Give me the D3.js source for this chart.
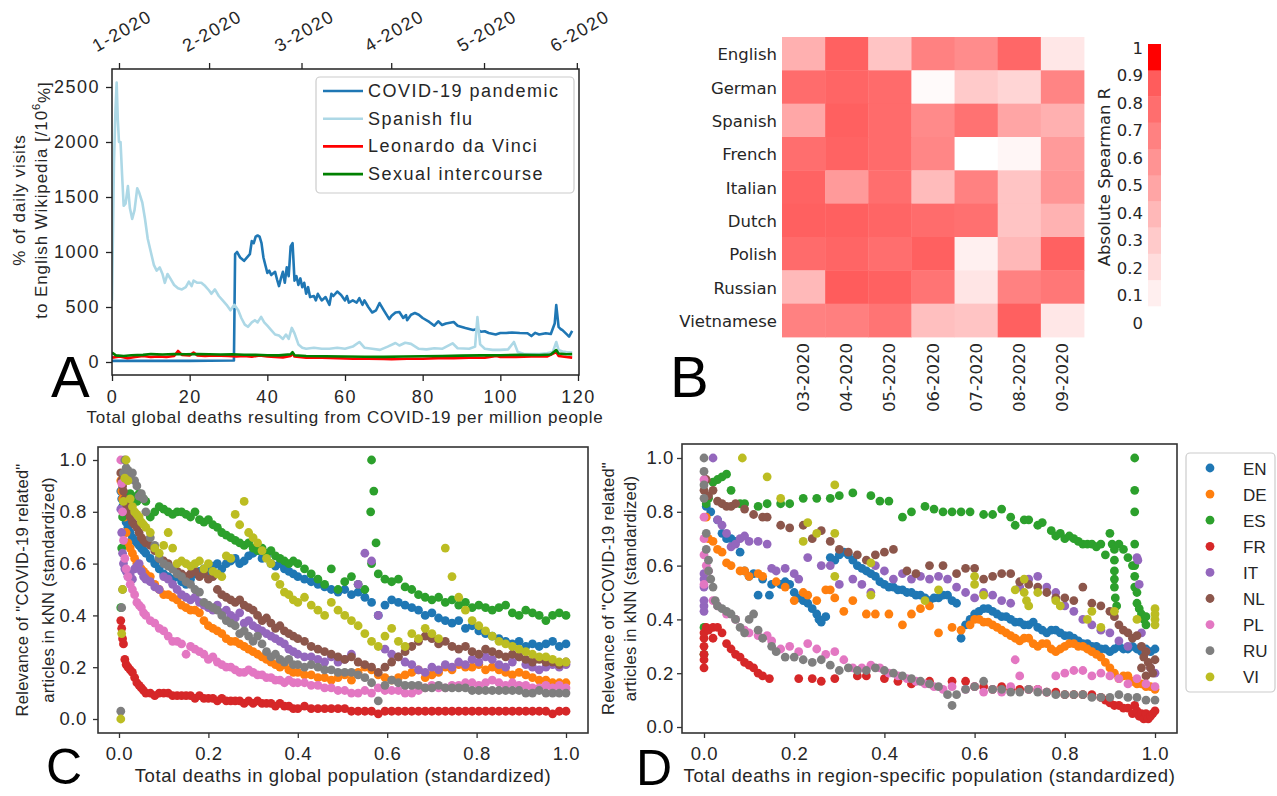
<!DOCTYPE html>
<html>
<head>
<meta charset="utf-8">
<script src="https://d3js.org/d3.v7.min.js"></script>
<style>
  body { margin: 0; background: #fff; }
  svg { display: block; }
</style>
</head>
<body>
<script>
// ---------- Panel A data: daily visits vs global deaths per million ----------
const legendA = ["COVID-19 pandemic", "Spanish flu", "Leonardo da Vinci", "Sexual intercourse"];
const colorsA = ["#1f77b4", "#add8e6", "#ff0000", "#008000"];
const ticksA = [0, 20, 40, 60, 80, 100, 120];
const yTicksA = [0, 500, 1000, 1500, 2000, 2500];
const monthLabelsA = ["1-2020", "2-2020", "3-2020", "4-2020", "5-2020", "6-2020"];
const monthPosA = [1.8, 25.0, 48.8, 71.9, 95.8, 119.7];

const covidVisits = [[0,10],[5,12],[10,10],[15,12],[20,10],[25,12],[31.4,14],[31.7,980],[32.2,1000],[33,950],[34,920],[35,960],[35.5,980],[36,1100],[36.5,1080],[37,1140],[37.5,1150],[38,1140],[38.5,1080],[39,950],[39.5,880],[40,810],[40.5,830],[41,790],[42,820],[42.5,750],[43,690],[43.5,760],[44,820],[44.5,720],[45,860],[45.5,780],[46,1050],[46.5,1080],[47,740],[47.5,780],[48,700],[48.5,760],[49,680],[49.5,720],[50,620],[50.5,680],[51,590],[52,600],[52.5,560],[53,620],[54,560],[55,590],[56,520],[56.5,620],[57,600],[58,640],[59,610],[60,560],[60.5,600],[61,540],[62,560],[63,540],[63.7,580],[64.5,520],[65,560],[66,500],[67,450],[68,470],[68.9,536],[70,470],[71.4,390],[72,420],[73,450],[74,455],[75,400],[75.7,427],[76,380],[77,430],[78,445],[79,430],[80,400],[81.7,364],[83,330],[84,370],[85,336],[86,350],[88,364],[89,330],[91,309],[93,291],[94,300],[95,275],[96,280],[97,264],[98.8,250],[100,264],[101.5,264],[103,268],[105,264],[107,262],[108,236],[109,265],[110,250],[111.7,262],[113,255],[114,350],[114.4,518],[115,320],[115.5,300],[116,290],[117,255],[117.7,230],[118.5,282]];
const spanishFluVisits = [[0,560],[0.5,1800],[0.9,2300],[1.2,2540],[1.5,2200],[1.8,2000],[2.2,2000],[2.6,1700],[3,1420],[3.5,1440],[4.1,1600],[4.6,1400],[5.2,1300],[5.8,1380],[6.5,1580],[7,1540],[7.8,1450],[8.5,1300],[9.2,1120],[10,1000],[10.8,880],[11.5,830],[12.3,860],[13,800],[13.6,720],[14.3,800],[15,760],[16,700],[17,670],[18,660],[19,680],[19.8,730],[20.5,690],[21,740],[22,720],[23,720],[24,690],[25,650],[25.6,620],[26.5,660],[27.5,600],[28.5,560],[29.5,520],[30.5,470],[31.5,520],[32.5,470],[33.3,400],[34.2,340],[35,320],[36,360],[36.8,380],[37.5,360],[38.4,410],[39.2,360],[40,330],[41,290],[42,250],[43,240],[44,210],[44.8,250],[45.5,210],[46.3,310],[47,260],[48,160],[49,130],[50,120],[52,130],[54,120],[56,120],[58,130],[60,120],[62,140],[63.7,182],[65,130],[67,120],[69,110],[71,140],[73,173],[74,150],[75.5,175],[77,165],[79,120],[81,115],[83,125],[85,120],[87.7,170],[89,125],[92,120],[93.5,140],[94.1,409],[94.8,160],[96,120],[98,110],[100,110],[102,115],[103.5,182],[104.5,90],[106,75],[108,72],[110,72],[112,80],[113.5,90],[114.4,182],[115,110],[116,95],[117,90],[118.5,85]];
const leonardoVisits = [[0,40],[2,50],[4,35],[6,45],[8,55],[10,45],[12,50],[14,45],[16,55],[17,100],[18,65],[20,60],[21,85],[22,60],[24,55],[26,60],[28,58],[30,55],[32,50],[34,55],[36,48],[38,60],[40,50],[42,45],[44,42],[46,55],[46.5,80],[47,50],[50,40],[54,38],[58,35],[62,30],[66,30],[70,28],[72,25],[76,30],[80,30],[84,35],[88,35],[92,38],[96,40],[99,55],[100,45],[104,45],[108,50],[112,50],[114.4,91],[115,55],[117,45],[118.5,40]];
const intercourseVisits = [[0,85],[1,60],[3,55],[5,62],[8,65],[10,72],[13,68],[16,72],[19,70],[22,72],[25,70],[28,68],[31,70],[34,66],[37,65],[40,62],[43,60],[46,70],[46.5,90],[47,62],[50,55],[55,52],[60,50],[65,48],[70,47],[75,50],[80,52],[85,55],[90,58],[95,60],[100,62],[105,65],[110,64],[113,68],[114.4,109],[115,78],[117,70],[118.5,72]];

// ---------- Panel B data: absolute Spearman R per language and month ----------
const languagesB = ["English", "German", "Spanish", "French", "Italian", "Dutch", "Polish", "Russian", "Vietnamese"];
const monthsB = ["03-2020", "04-2020", "05-2020", "06-2020", "07-2020", "08-2020", "09-2020"];
const spearmanR = [
  [0.43, 0.86, 0.32, 0.69, 0.63, 0.83, 0.13],
  [0.80, 0.84, 0.81, 0.03, 0.29, 0.23, 0.67],
  [0.48, 0.87, 0.81, 0.64, 0.77, 0.49, 0.43],
  [0.79, 0.85, 0.81, 0.66, 0.00, 0.05, 0.55],
  [0.85, 0.55, 0.79, 0.37, 0.69, 0.32, 0.58],
  [0.87, 0.87, 0.84, 0.80, 0.78, 0.32, 0.42],
  [0.81, 0.84, 0.79, 0.87, 0.08, 0.39, 0.86],
  [0.38, 0.89, 0.86, 0.76, 0.14, 0.69, 0.74],
  [0.69, 0.70, 0.76, 0.35, 0.32, 0.87, 0.13]
];
const colorbarTicks = [0, 0.1, 0.2, 0.3, 0.4, 0.5, 0.6, 0.7, 0.8, 0.9, 1];

// ---------- Panels C/D data: standardized relevance of COVID-19 articles ----------
const codes = ["EN", "DE", "ES", "FR", "IT", "NL", "PL", "RU", "VI"];
const ticksCD = [0, 0.2, 0.4, 0.6, 0.8, 1.0];

// global deaths (standardized) for each observed day, shared by all languages in C
const xC = [0.004,0.006,0.008,0.010,0.013,0.016,0.020,0.025,0.030,0.035,0.040,0.045,0.050,0.055,0.060,
  0.07,0.08,0.09,0.10,0.11,0.12,0.13,0.14,0.15,0.16,0.17,0.18,0.19,0.20,0.21,0.22,0.23,0.24,0.25,0.26,0.27,0.28,0.29,0.30,0.31,0.32,0.33,0.34,0.35,0.36,0.37,0.38,0.39,0.40,
  0.415,0.430,0.445,0.460,0.475,0.490,0.505,0.520,0.535,0.550,0.565,0.580,0.595,0.610,0.625,0.640,0.655,0.670,0.685,0.700,0.715,0.730,0.745,0.760,0.775,0.790,0.805,0.820,0.835,0.850,0.865,0.880,0.895,0.910,0.925,0.940,0.955,0.970,0.985,1.000];

const cEN = [0.88,0.85,0.82,0.80,0.78,0.76,0.74,0.72,0.70,0.69,0.68,0.67,0.66,0.65,0.64,
  0.62,0.60,0.58,0.56,0.55,0.54,0.55,0.53,0.52,0.54,0.56,0.57,0.58,0.57,0.59,0.60,0.58,0.60,0.61,0.62,0.60,0.61,0.63,0.64,0.65,0.62,0.63,0.60,0.59,0.60,0.58,0.57,0.56,0.55,
  0.54,0.53,0.52,0.51,0.50,0.49,0.50,0.48,0.49,0.47,0.45,0.40,0.44,0.46,0.45,0.44,0.43,0.42,0.40,0.41,0.39,0.38,0.37,0.38,0.35,0.36,0.34,0.33,0.32,0.31,0.30,0.29,0.30,0.28,0.29,0.28,0.29,0.30,0.28,0.29];
const cDE = [0.92,0.88,0.85,0.80,0.78,0.72,0.68,0.66,0.64,0.62,0.60,0.59,0.58,0.57,0.56,
  0.55,0.52,0.50,0.48,0.48,0.47,0.46,0.44,0.43,0.42,0.42,0.41,0.38,0.36,0.35,0.34,0.33,0.31,0.30,0.30,0.29,0.28,0.27,0.26,0.25,0.24,0.23,0.22,0.21,0.20,0.21,0.19,0.18,0.18,
  0.17,0.17,0.16,0.16,0.15,0.16,0.17,0.15,0.18,0.20,0.19,0.17,0.16,0.15,0.16,0.17,0.18,0.19,0.16,0.17,0.18,0.20,0.19,0.21,0.20,0.20,0.21,0.19,0.20,0.19,0.18,0.17,0.18,0.17,0.16,0.15,0.15,0.14,0.14,0.14];
const cES = [0.43,0.66,0.78,0.82,0.84,0.85,0.86,0.87,0.86,0.85,0.84,0.87,0.86,0.85,0.84,
  0.78,0.80,0.82,0.81,0.80,0.79,0.80,0.80,0.79,0.78,0.80,0.77,0.76,0.77,0.75,0.74,0.72,0.71,0.70,0.69,0.68,0.67,0.68,0.66,0.65,0.66,0.64,0.65,0.63,0.62,0.61,0.60,0.61,0.60,
  0.58,0.56,0.54,0.52,0.58,0.50,0.53,0.55,0.52,0.50,0.60,0.56,0.54,0.53,0.54,0.51,0.50,0.48,0.47,0.46,0.47,0.45,0.46,0.44,0.45,0.43,0.44,0.43,0.42,0.43,0.44,0.41,0.40,0.42,0.41,0.40,0.38,0.40,0.41,0.40];
const cFR = [0.38,0.35,0.31,0.29,0.23,0.21,0.20,0.19,0.18,0.16,0.14,0.13,0.12,0.11,0.10,
  0.10,0.09,0.10,0.10,0.10,0.09,0.09,0.09,0.09,0.09,0.08,0.09,0.08,0.08,0.08,0.07,0.08,0.07,0.07,0.07,0.07,0.06,0.07,0.06,0.07,0.06,0.06,0.06,0.05,0.06,0.05,0.05,0.04,0.04,
  0.05,0.04,0.04,0.04,0.04,0.04,0.04,0.03,0.03,0.03,0.03,0.02,0.03,0.03,0.03,0.03,0.03,0.03,0.03,0.03,0.03,0.03,0.03,0.03,0.03,0.03,0.03,0.03,0.03,0.03,0.03,0.03,0.03,0.03,0.03,0.03,0.03,0.02,0.03,0.03];
const cIT = [0.81,0.72,0.64,0.60,0.58,0.57,0.55,0.56,0.54,0.58,0.59,0.60,0.57,0.55,0.54,
  0.53,0.51,0.50,0.55,0.54,0.52,0.50,0.48,0.47,0.46,0.47,0.45,0.44,0.43,0.42,0.44,0.41,0.42,0.40,0.39,0.41,0.37,0.38,0.36,0.35,0.34,0.33,0.32,0.31,0.30,0.29,0.27,0.26,0.25,
  0.24,0.24,0.23,0.22,0.24,0.22,0.23,0.25,0.52,0.64,0.61,0.40,0.27,0.25,0.24,0.22,0.21,0.19,0.18,0.20,0.19,0.21,0.20,0.22,0.21,0.23,0.22,0.24,0.23,0.21,0.20,0.22,0.24,0.21,0.20,0.19,0.20,0.21,0.20,0.21];
const cNL = [0.95,0.92,0.90,0.88,0.85,0.83,0.80,0.78,0.76,0.75,0.74,0.72,0.70,0.69,0.68,
  0.67,0.65,0.62,0.61,0.60,0.58,0.57,0.56,0.55,0.56,0.57,0.55,0.56,0.54,0.55,0.50,0.48,0.47,0.46,0.45,0.46,0.44,0.43,0.42,0.40,0.38,0.39,0.37,0.35,0.36,0.34,0.33,0.32,0.31,
  0.30,0.28,0.27,0.26,0.25,0.24,0.23,0.24,0.22,0.21,0.20,0.18,0.20,0.22,0.24,0.26,0.28,0.30,0.32,0.31,0.29,0.30,0.28,0.27,0.28,0.26,0.25,0.27,0.26,0.25,0.24,0.25,0.24,0.23,0.22,0.23,0.22,0.22,0.21,0.22];
const cPL = [1.00,0.91,0.80,0.69,0.62,0.58,0.55,0.52,0.50,0.48,0.45,0.44,0.43,0.41,0.40,
  0.38,0.37,0.35,0.34,0.32,0.30,0.30,0.29,0.25,0.28,0.27,0.26,0.25,0.23,0.24,0.22,0.21,0.20,0.20,0.19,0.18,0.18,0.19,0.18,0.17,0.17,0.16,0.16,0.15,0.15,0.14,0.15,0.14,0.14,
  0.14,0.13,0.13,0.12,0.12,0.11,0.11,0.10,0.10,0.11,0.10,0.12,0.11,0.11,0.11,0.10,0.10,0.11,0.12,0.13,0.12,0.12,0.13,0.13,0.14,0.14,0.13,0.14,0.15,0.14,0.13,0.14,0.13,0.13,0.12,0.12,0.13,0.12,0.13,0.12];
const cRU = [0.03,0.43,0.50,0.95,1.00,0.97,0.96,0.94,0.95,0.92,0.90,0.86,0.87,0.85,0.80,
  0.70,0.67,0.62,0.60,0.59,0.58,0.56,0.55,0.53,0.52,0.50,0.49,0.45,0.44,0.43,0.42,0.40,0.38,0.37,0.36,0.33,0.34,0.32,0.30,0.32,0.29,0.26,0.24,0.25,0.23,0.22,0.23,0.21,0.21,
  0.20,0.21,0.20,0.19,0.19,0.18,0.18,0.18,0.17,0.16,0.14,0.07,0.13,0.15,0.14,0.13,0.13,0.13,0.12,0.12,0.13,0.12,0.12,0.12,0.12,0.11,0.11,0.11,0.11,0.11,0.11,0.11,0.11,0.10,0.10,0.11,0.10,0.10,0.10,0.10];
const cVI = [0.00,0.33,0.50,0.84,0.93,1.00,0.92,0.85,0.82,0.80,0.79,0.78,0.76,0.75,0.74,
  0.72,0.66,0.64,0.67,0.72,0.66,0.60,0.61,0.60,0.59,0.60,0.61,0.58,0.60,0.57,0.56,0.55,0.63,0.62,0.79,0.75,0.84,0.72,0.70,0.68,0.65,0.62,0.60,0.55,0.52,0.49,0.48,0.46,0.45,
  0.47,0.44,0.42,0.40,0.45,0.42,0.40,0.38,0.36,0.33,0.30,0.28,0.32,0.35,0.30,0.28,0.33,0.31,0.35,0.33,0.31,0.66,0.55,0.47,0.42,0.38,0.36,0.34,0.32,0.30,0.29,0.28,0.27,0.26,0.25,0.24,0.24,0.23,0.22,0.22];
// extra Spanish days that jumped at ~0.57
const cESSpike = [[0.565,1.00],[0.563,0.80],[0.570,0.88],[0.575,0.68]];

// region-specific deaths (standardized) differ per language, so D keeps [x, y] pairs
const dEN = [[0.005,0.82],[0.015,0.80],[0.03,0.77],[0.04,0.72],[0.05,0.70],[0.06,0.70],[0.07,0.69],[0.08,0.65],[0.09,0.58],[0.10,0.56],[0.11,0.57],[0.12,0.49],[0.13,0.55],[0.145,0.49],[0.15,0.53],[0.17,0.53],[0.18,0.54],[0.19,0.53],[0.20,0.50],[0.21,0.48],[0.22,0.47],[0.23,0.46],[0.24,0.44],[0.25,0.42],[0.255,0.40],[0.26,0.39],[0.27,0.41],[0.28,0.63],[0.29,0.62],[0.30,0.64],[0.31,0.65],[0.32,0.64],[0.33,0.62],[0.34,0.60],[0.35,0.59],[0.36,0.58],[0.37,0.57],[0.38,0.56],[0.39,0.54],[0.40,0.53],[0.41,0.52],[0.42,0.52],[0.43,0.51],[0.44,0.51],[0.45,0.50],[0.46,0.50],[0.47,0.49],[0.48,0.49],[0.49,0.48],[0.50,0.47],[0.51,0.48],[0.52,0.48],[0.53,0.49],[0.54,0.49],[0.55,0.47],[0.56,0.46],[0.57,0.33],[0.58,0.38],[0.59,0.40],[0.60,0.42],[0.61,0.43],[0.62,0.44],[0.63,0.44],[0.64,0.43],[0.65,0.42],[0.66,0.41],[0.67,0.41],[0.68,0.40],[0.69,0.39],[0.70,0.39],[0.71,0.38],[0.72,0.38],[0.73,0.39],[0.74,0.37],[0.75,0.36],[0.76,0.35],[0.77,0.36],[0.78,0.36],[0.79,0.35],[0.80,0.34],[0.81,0.34],[0.82,0.33],[0.83,0.32],[0.84,0.31],[0.85,0.31],[0.86,0.30],[0.87,0.30],[0.88,0.29],[0.89,0.29],[0.90,0.28],[0.91,0.29],[0.92,0.30],[0.93,0.29],[0.94,0.29],[0.95,0.30],[0.96,0.29],[0.97,0.28],[0.98,0.29],[0.99,0.28],[1.0,0.29]];
const dDE = [[0.005,0.78],[0.01,0.70],[0.02,0.69],[0.03,0.66],[0.04,0.65],[0.05,0.61],[0.06,0.60],[0.08,0.58],[0.09,0.58],[0.10,0.56],[0.12,0.57],[0.13,0.56],[0.16,0.54],[0.18,0.52],[0.20,0.47],[0.22,0.50],[0.23,0.49],[0.25,0.47],[0.27,0.51],[0.28,0.51],[0.29,0.48],[0.31,0.43],[0.33,0.47],[0.36,0.42],[0.38,0.42],[0.41,0.42],[0.44,0.38],[0.46,0.42],[0.48,0.44],[0.50,0.45],[0.52,0.35],[0.55,0.37],[0.57,0.36],[0.59,0.38],[0.60,0.40],[0.61,0.40],[0.62,0.39],[0.63,0.39],[0.64,0.38],[0.65,0.37],[0.66,0.36],[0.67,0.35],[0.68,0.34],[0.69,0.33],[0.70,0.32],[0.71,0.33],[0.72,0.33],[0.73,0.31],[0.74,0.30],[0.75,0.31],[0.76,0.31],[0.77,0.29],[0.78,0.28],[0.79,0.29],[0.80,0.30],[0.81,0.31],[0.82,0.31],[0.83,0.30],[0.84,0.30],[0.85,0.29],[0.86,0.28],[0.87,0.27],[0.88,0.26],[0.89,0.24],[0.90,0.22],[0.91,0.20],[0.92,0.18],[0.93,0.19],[0.94,0.19],[0.95,0.17],[0.96,0.16],[0.97,0.16],[0.98,0.15],[0.99,0.15],[1.0,0.14]];
const dES = [[0.0,0.37],[0.0,0.27],[0.005,0.83],[0.01,0.85],[0.02,0.91],[0.03,0.92],[0.04,0.93],[0.05,0.94],[0.06,0.88],[0.08,0.83],[0.09,0.83],[0.12,0.82],[0.14,0.83],[0.17,0.83],[0.19,0.83],[0.22,0.85],[0.25,0.85],[0.28,0.85],[0.30,0.86],[0.33,0.87],[0.37,0.86],[0.39,0.84],[0.41,0.84],[0.44,0.78],[0.46,0.80],[0.49,0.82],[0.51,0.81],[0.53,0.80],[0.55,0.80],[0.57,0.80],[0.59,0.80],[0.62,0.79],[0.64,0.79],[0.66,0.81],[0.68,0.78],[0.69,0.75],[0.71,0.77],[0.72,0.77],[0.74,0.75],[0.75,0.76],[0.77,0.73],[0.78,0.71],[0.79,0.72],[0.80,0.70],[0.81,0.71],[0.82,0.70],[0.83,0.69],[0.84,0.68],[0.85,0.68],[0.86,0.68],[0.87,0.67],[0.88,0.68],[0.89,0.64],[0.90,0.72],[0.905,0.68],[0.91,0.66],[0.91,0.62],[0.91,0.58],[0.91,0.55],[0.91,0.52],[0.912,0.48],[0.915,0.45],[0.92,0.68],[0.93,0.66],[0.94,0.63],[0.95,0.60],[0.955,1.0],[0.955,0.88],[0.955,0.80],[0.955,0.68],[0.955,0.60],[0.955,0.56],[0.955,0.52],[0.96,0.50],[0.96,0.46],[0.965,0.44],[0.97,0.42],[0.975,0.40],[0.98,0.38],[0.98,0.41]];
const dFR = [[0,0.22],[0,0.25],[0,0.27],[0,0.30],[0,0.33],[0,0.35],[0.005,0.37],[0.01,0.36],[0.02,0.37],[0.02,0.33],[0.03,0.37],[0.04,0.35],[0.05,0.31],[0.06,0.29],[0.07,0.27],[0.08,0.26],[0.09,0.24],[0.10,0.23],[0.11,0.22],[0.12,0.20],[0.13,0.19],[0.145,0.18],[0.21,0.18],[0.24,0.18],[0.26,0.17],[0.29,0.18],[0.34,0.19],[0.36,0.19],[0.40,0.18],[0.43,0.17],[0.46,0.16],[0.50,0.17],[0.55,0.17],[0.58,0.17],[0.60,0.15],[0.62,0.15],[0.64,0.14],[0.66,0.15],[0.68,0.14],[0.70,0.14],[0.72,0.14],[0.74,0.14],[0.76,0.13],[0.78,0.13],[0.80,0.12],[0.82,0.12],[0.84,0.12],[0.86,0.12],[0.88,0.11],[0.89,0.10],[0.90,0.09],[0.91,0.08],[0.92,0.08],[0.93,0.07],[0.94,0.07],[0.95,0.05],[0.955,0.08],[0.96,0.06],[0.965,0.04],[0.97,0.05],[0.975,0.03],[0.98,0.05],[0.985,0.03],[0.99,0.04],[0.995,0.05],[1.0,0.06]];
const dIT = [[0,0.43],[0,0.45],[0,0.47],[0,0.52],[0,0.55],[0,0.57],[0.02,1.0],[0.03,0.77],[0.04,0.75],[0.05,0.72],[0.06,0.67],[0.07,0.68],[0.08,0.70],[0.09,0.71],[0.10,0.69],[0.12,0.69],[0.14,0.68],[0.15,0.59],[0.16,0.58],[0.18,0.59],[0.20,0.57],[0.21,0.55],[0.23,0.63],[0.26,0.60],[0.28,0.60],[0.30,0.53],[0.33,0.55],[0.35,0.53],[0.37,0.50],[0.38,0.60],[0.40,0.58],[0.42,0.55],[0.44,0.57],[0.46,0.55],[0.48,0.56],[0.50,0.55],[0.52,0.56],[0.54,0.55],[0.56,0.52],[0.58,0.50],[0.60,0.48],[0.62,0.50],[0.64,0.49],[0.66,0.47],[0.68,0.46],[0.70,0.52],[0.72,0.55],[0.74,0.56],[0.76,0.52],[0.78,0.50],[0.80,0.45],[0.82,0.43],[0.84,0.40],[0.86,0.38],[0.88,0.36],[0.90,0.35],[0.92,0.32],[0.94,0.30],[0.96,0.63],[0.962,0.62],[0.965,0.53],[0.97,0.35],[0.98,0.28],[0.99,0.22],[1.0,0.20]];
const dNL = [[0,0.88],[0.005,0.92],[0.01,0.86],[0.02,0.88],[0.03,0.84],[0.04,0.83],[0.05,0.82],[0.06,0.82],[0.07,0.83],[0.09,0.81],[0.11,0.79],[0.13,0.78],[0.14,0.78],[0.17,0.75],[0.19,0.74],[0.22,0.75],[0.24,0.70],[0.26,0.73],[0.28,0.69],[0.30,0.66],[0.32,0.65],[0.34,0.64],[0.36,0.62],[0.38,0.64],[0.40,0.65],[0.42,0.66],[0.45,0.58],[0.47,0.57],[0.50,0.60],[0.53,0.60],[0.56,0.57],[0.58,0.59],[0.60,0.59],[0.62,0.55],[0.64,0.56],[0.66,0.57],[0.68,0.57],[0.70,0.54],[0.72,0.53],[0.74,0.52],[0.76,0.50],[0.78,0.48],[0.80,0.48],[0.82,0.47],[0.84,0.52],[0.86,0.46],[0.88,0.45],[0.90,0.43],[0.91,0.41],[0.92,0.38],[0.93,0.36],[0.94,0.35],[0.95,0.33],[0.96,0.34],[0.97,0.30],[0.975,0.26],[0.98,0.28],[0.985,0.24],[0.99,0.22],[0.995,0.20],[1.0,0.25],[0.97,0.22],[0.98,0.19]];
const dPL = [[0,0.92],[0,0.78],[0,0.70],[0,0.64],[0,0.53],[0.005,0.60],[0.01,0.58],[0.02,0.47],[0.03,0.45],[0.05,0.42],[0.07,0.40],[0.09,0.36],[0.10,0.35],[0.12,0.34],[0.14,0.34],[0.15,0.32],[0.17,0.29],[0.19,0.30],[0.21,0.28],[0.23,0.31],[0.25,0.29],[0.27,0.27],[0.29,0.28],[0.31,0.25],[0.33,0.22],[0.35,0.22],[0.37,0.23],[0.39,0.22],[0.41,0.20],[0.43,0.19],[0.45,0.18],[0.47,0.17],[0.49,0.16],[0.51,0.15],[0.53,0.14],[0.55,0.15],[0.58,0.14],[0.60,0.15],[0.62,0.13],[0.64,0.14],[0.66,0.13],[0.68,0.15],[0.69,0.25],[0.70,0.19],[0.72,0.14],[0.74,0.14],[0.76,0.13],[0.78,0.19],[0.80,0.20],[0.82,0.21],[0.84,0.21],[0.86,0.19],[0.88,0.20],[0.90,0.19],[0.92,0.18],[0.94,0.16],[0.96,0.18],[0.98,0.16],[1.0,0.15]];
const dRU = [[0,1.0],[0,0.95],[0,0.90],[0,0.85],[0.005,0.72],[0.005,0.66],[0.01,0.62],[0.01,0.58],[0.015,0.55],[0.02,0.52],[0.025,0.47],[0.03,0.45],[0.04,0.44],[0.05,0.43],[0.06,0.42],[0.07,0.40],[0.08,0.37],[0.09,0.35],[0.10,0.40],[0.11,0.42],[0.12,0.36],[0.13,0.33],[0.15,0.30],[0.16,0.28],[0.18,0.26],[0.20,0.26],[0.22,0.25],[0.24,0.24],[0.26,0.25],[0.28,0.23],[0.30,0.21],[0.32,0.22],[0.34,0.21],[0.36,0.21],[0.38,0.22],[0.40,0.21],[0.42,0.20],[0.44,0.19],[0.46,0.18],[0.48,0.17],[0.50,0.16],[0.52,0.15],[0.54,0.12],[0.55,0.08],[0.56,0.12],[0.58,0.14],[0.60,0.15],[0.62,0.17],[0.64,0.14],[0.66,0.14],[0.68,0.13],[0.70,0.13],[0.72,0.14],[0.74,0.13],[0.76,0.13],[0.78,0.12],[0.80,0.12],[0.82,0.12],[0.84,0.12],[0.86,0.11],[0.88,0.11],[0.90,0.11],[0.92,0.12],[0.94,0.11],[0.96,0.11],[0.98,0.10],[1.0,0.10]];
const dVI = [[0.085,1.0],[0.14,0.93],[0.17,0.85],[0.23,0.76],[0.25,0.72],[0.22,0.69],[0.29,0.90],[0.29,0.72],[0.29,0.56],[0.37,0.61],[0.37,0.49],[0.49,0.47],[0.52,0.51],[0.60,0.56],[0.60,0.53],[0.62,0.49],[0.69,0.51],[0.71,0.55],[0.71,0.50],[0.715,0.47],[0.72,0.45],[0.74,0.50],[0.78,0.47],[0.79,0.45],[0.85,0.40],[0.86,0.43],[0.88,0.37],[0.91,0.43],[0.96,0.40],[1.0,0.44],[1.0,0.42],[1.0,0.40],[1.0,0.38]];

// ---------------------------------------------------------------------------
const SANS = '"Liberation Sans", Arial, Helvetica, sans-serif';
const VERD = '"DejaVu Sans", Verdana, sans-serif';
const TXT = "#262626";

const svg = d3.select("body").append("svg").attr("width", 1277).attr("height", 796);
svg.append("rect").attr("width", 1277).attr("height", 796).attr("fill", "#fff");

// Quita la línea base del eje y da estilo a marcas y textos
function styleAxis(g, font, size, spacing, lineColor) {
    g.attr("font-family", null).attr("font-size", null);
    g.select(".domain").remove();
    g.selectAll(".tick line").attr("stroke", lineColor).attr("stroke-width", 1.3);
    g.selectAll(".tick text")
        .attr("fill", TXT)
        .style("font-family", font)
        .style("font-size", size + "px")
        .style("letter-spacing", spacing + "px");
}

function addText(parent, x, y, str, size, opts) {
    opts = opts || {};
    return parent.append("text")
        .attr("x", x).attr("y", y)
        .attr("fill", opts.fill || TXT)
        .attr("text-anchor", opts.anchor || "start")
        .attr("transform", opts.rotate ? "rotate(" + opts.rotate + "," + x + "," + y + ")" : null)
        .attr("dominant-baseline", opts.baseline || null)
        .style("font-family", opts.font || SANS)
        .style("font-size", size + "px")
        .style("letter-spacing", (opts.spacing || 0) + "px")
        .text(str);
}

// ================= Panel A =================
function drawPanelA() {
    const frame = {x0: 112, x1: 579, y0: 69, y1: 375};
    const x = d3.scaleLinear().domain([0, 120]).range([112, 578]);
    const y = d3.scaleLinear().domain([0, 2500]).range([362, 87]);
    const g = svg.append("g");

    g.append("clipPath").attr("id", "clipA").append("rect")
        .attr("x", frame.x0).attr("y", frame.y0)
        .attr("width", frame.x1 - frame.x0).attr("height", frame.y1 - frame.y0);

    const line = d3.line().x(d => x(d[0])).y(d => y(d[1]));
    const series = [covidVisits, spanishFluVisits, leonardoVisits, intercourseVisits];
    series.forEach((s, i) => {
        g.append("path").datum(s)
            .attr("clip-path", "url(#clipA)")
            .attr("d", line)
            .attr("fill", "none")
            .attr("stroke", colorsA[i])
            .attr("stroke-width", 2.6)
            .attr("stroke-linejoin", "round");
    });

    g.append("rect")
        .attr("x", frame.x0).attr("y", frame.y0)
        .attr("width", frame.x1 - frame.x0).attr("height", frame.y1 - frame.y0)
        .attr("fill", "none").attr("stroke", "#222").attr("stroke-width", 1.5);

    const gx = g.append("g").attr("transform", "translate(0," + frame.y1 + ")")
        .call(d3.axisBottom(x).tickValues(ticksA).tickSize(6).tickPadding(9));
    styleAxis(gx, SANS, 18, 1.5, "#222");

    const gy = g.append("g").attr("transform", "translate(" + frame.x0 + ",0)")
        .call(d3.axisLeft(y).tickValues(yTicksA).tickFormat(d3.format("d")).tickSize(6).tickPadding(6));
    styleAxis(gy, SANS, 18, 1.5, "#222");

    // eje superior con los meses
    const gt = g.append("g").attr("transform", "translate(0," + frame.y0 + ")")
        .call(d3.axisTop(x).tickValues(monthPosA).tickSize(6).tickFormat(""));
    styleAxis(gt, SANS, 18, 1.5, "#222");
    g.selectAll(".month").data(monthLabelsA).join("text")
        .attr("class", "month")
        .attr("transform", (d, i) => "translate(" + (x(monthPosA[i]) + 3) + ",31) rotate(-30)")
        .attr("text-anchor", "middle")
        .attr("dominant-baseline", "central")
        .attr("fill", TXT)
        .style("font-family", SANS).style("font-size", "18px").style("letter-spacing", "1.5px")
        .text(d => d);

    // leyenda
    g.append("rect").attr("x", 316).attr("y", 77).attr("width", 258).attr("height", 116)
        .attr("rx", 4).attr("fill", "#fff").attr("fill-opacity", 0.85)
        .attr("stroke", "#cccccc").attr("stroke-width", 1.2);
    legendA.forEach((name, i) => {
        const ly = 91 + i * 27.7;
        g.append("line").attr("x1", 323).attr("x2", 363).attr("y1", ly).attr("y2", ly)
            .attr("stroke", colorsA[i]).attr("stroke-width", 2.6);
        addText(g, 368, ly, name, 18, {spacing: 1.5, baseline: "central"});
    });

    // títulos de ejes
    addText(g, 19, 200, "% of daily visits", 17, {anchor: "middle", rotate: -90, baseline: "central", spacing: 0.9});
    const yl2 = addText(g, 41, 200, "to English Wikipedia [/10", 17, {anchor: "middle", rotate: -90, baseline: "central", spacing: 0.9});
    yl2.append("tspan").attr("dy", "-0.45em").style("font-size", "11px").text("6");
    yl2.append("tspan").attr("dy", "0.45em").text("%]");

    addText(g, 345, 423, "Total global deaths resulting from COVID-19 per million people", 17, {anchor: "middle", spacing: 0.75});
    addText(g, 51, 397, "A", 58, {fill: "#000"});
}

// ================= Panel B =================
function drawPanelB() {
    const g = svg.append("g");
    const x = d3.scaleBand().domain(monthsB).range([782, 1084]);
    const y = d3.scaleBand().domain(languagesB).range([37, 337]);
    const color = d3.scaleLinear().domain([0, 0.9, 0.9, 1])
        .range(["#ffffff", "#ff5a5a", "#ff0000", "#ff0000"]).clamp(true);

    spearmanR.forEach((row, i) => {
        row.forEach((v, j) => {
            g.append("rect")
                .attr("x", x(monthsB[j])).attr("y", y(languagesB[i]))
                .attr("width", x.bandwidth() + 0.4).attr("height", y.bandwidth() + 0.4)
                .attr("fill", color(v));
        });
    });

    languagesB.forEach(lang => {
        addText(g, 777, y(lang) + y.bandwidth() / 2 + 1, lang, 16.5, {font: VERD, anchor: "end", baseline: "central"});
    });
    monthsB.forEach(m => {
        const cx = x(m) + x.bandwidth() / 2;
        g.append("text")
            .attr("transform", "translate(" + cx + ",343) rotate(-90)")
            .attr("text-anchor", "end").attr("dominant-baseline", "central")
            .attr("fill", TXT)
            .style("font-family", VERD).style("font-size", "16.5px")
            .text(m);
    });

    // barra de color por intervalos
    const bar = d3.scaleLinear().domain([0, 1]).range([306, 44]);
    colorbarTicks.slice(0, 10).forEach(v => {
        g.append("rect")
            .attr("x", 1148).attr("y", bar(v + 0.1))
            .attr("width", 13).attr("height", bar(v) - bar(v + 0.1) + 0.3)
            .attr("fill", color(v < 0.85 ? v + 0.09 : 0.95));
    });
    const cb = d3.scaleLinear().domain([0, 1]).range([323, 48]);
    const gc = g.append("g").attr("transform", "translate(1148,0)")
        .call(d3.axisLeft(cb).tickValues(colorbarTicks).tickSize(0).tickPadding(5)
            .tickFormat(d => (d === 0 || d === 1) ? String(d) : d3.format(".1f")(d)));
    styleAxis(gc, VERD, 16.5, 0, "none");

    addText(g, 1104, 177, "Absolute Spearman R", 16.5, {font: VERD, anchor: "middle", rotate: -90, baseline: "central"});
    addText(g, 670, 397, "B", 58, {fill: "#000"});
}

// ================= Panels C and D =================
function drawScatter(cfg) {
    const g = svg.append("g");
    const f = cfg.frame;
    const x = d3.scaleLinear().domain([0, 1]).range(cfg.xRange);
    const y = d3.scaleLinear().domain([0, 1]).range(cfg.yRange);
    const palette = d3.schemeCategory10;

    cfg.series.forEach((pts, i) => {
        g.selectAll(null).data(pts).join("circle")
            .attr("cx", d => x(d[0])).attr("cy", d => y(d[1]))
            .attr("r", 4.4)
            .attr("fill", palette[i]);
    });

    g.append("rect").attr("x", f.x0).attr("y", f.y0)
        .attr("width", f.x1 - f.x0).attr("height", f.y1 - f.y0)
        .attr("fill", "none").attr("stroke", "#333").attr("stroke-width", 1.6);

    const gx = g.append("g").attr("transform", "translate(0," + f.y1 + ")")
        .call(d3.axisBottom(x).tickValues(ticksCD).tickFormat(d3.format(".1f")).tickSize(5).tickPadding(9));
    styleAxis(gx, SANS, 18.5, 0.6, "#333");
    const gy = g.append("g").attr("transform", "translate(" + f.x0 + ",0)")
        .call(d3.axisLeft(y).tickValues(ticksCD).tickFormat(d3.format(".1f")).tickSize(5).tickPadding(cfg.yPad));
    styleAxis(gy, SANS, 18.5, 0.6, "#333");

    const cy = (f.y0 + f.y1) / 2;
    addText(g, cfg.yLabelX[0], cy, 'Relevance of "COVID-19 related"', 16.5, {anchor: "middle", rotate: -90, baseline: "central", spacing: 0.3});
    addText(g, cfg.yLabelX[1], cy, "articles in kNN (standardized)", 16.5, {anchor: "middle", rotate: -90, baseline: "central", spacing: 0.3});
    addText(g, (f.x0 + f.x1) / 2, 782, cfg.xLabel, 18.5, {anchor: "middle", spacing: 0.6});
    addText(g, cfg.letterX, cfg.letterY, cfg.letter, 50, {fill: "#000"});
    return g;
}

function drawPanels() {
    drawPanelA();
    drawPanelB();

    const seriesC = [cEN, cDE, cES, cFR, cIT, cNL, cPL, cRU, cVI].map(ys => ys.map((v, i) => [xC[i], v]));
    seriesC[2] = seriesC[2].concat(cESSpike);
    drawScatter({
        frame: {x0: 98, x1: 588, y0: 447, y1: 733},
        xRange: [119, 566], yRange: [719, 460], yPad: 6,
        series: seriesC,
        yLabelX: [22, 48],
        xLabel: "Total deaths in global population (standardized)",
        letter: "C", letterX: 46, letterY: 784
    });

    const gD = drawScatter({
        frame: {x0: 682, x1: 1177, y0: 444, y1: 733},
        xRange: [704, 1155], yRange: [727, 458], yPad: 3,
        series: [dEN, dDE, dES, dFR, dIT, dNL, dPL, dRU, dVI],
        yLabelX: [608, 630],
        xLabel: "Total deaths in region-specific population (standardized)",
        letter: "D", letterX: 636, letterY: 785
    });

    // leyenda de idiomas
    gD.append("rect").attr("x", 1186).attr("y", 453).attr("width", 89).attr("height", 239)
        .attr("rx", 4).attr("fill", "#fff").attr("stroke", "#cccccc").attr("stroke-width", 1.2);
    codes.forEach((c, i) => {
        const ly = 468 + i * 26.1;
        gD.append("circle").attr("cx", 1210).attr("cy", ly).attr("r", 4.4).attr("fill", d3.schemeCategory10[i]);
        addText(gD, 1243, ly + 1, c, 17, {baseline: "central"});
    });
}

drawPanels();
</script>
</body>
</html>
